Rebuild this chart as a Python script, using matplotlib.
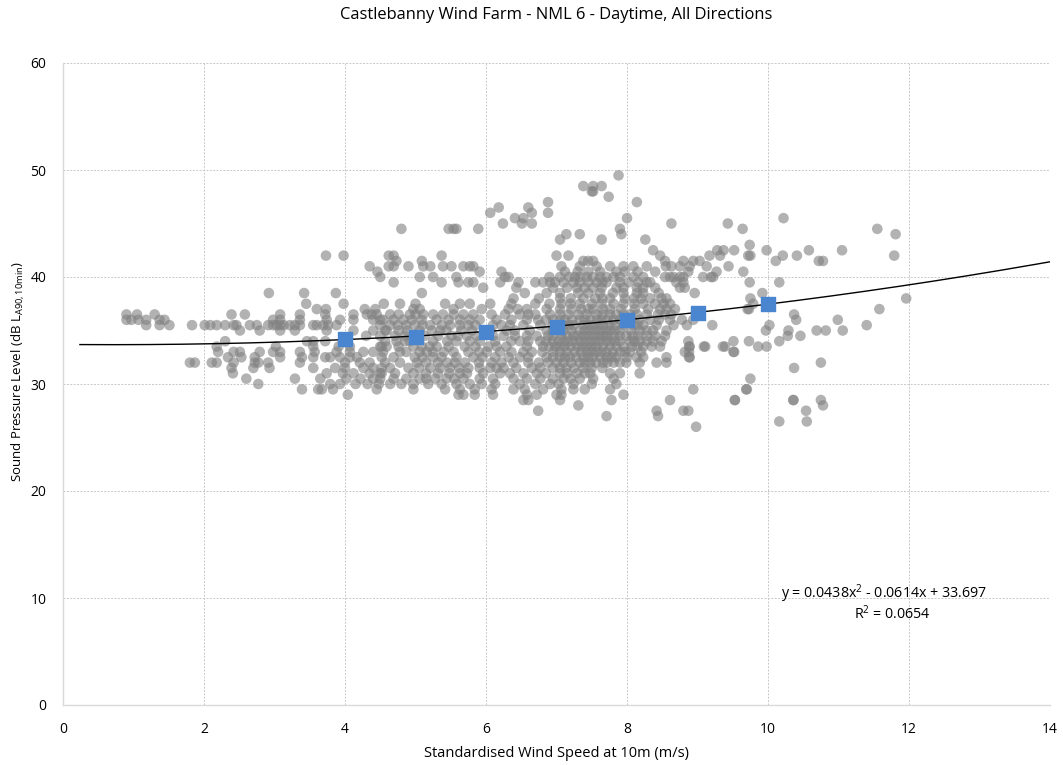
import matplotlib
matplotlib.use("Agg")
import matplotlib.pyplot as plt
import numpy as np

# ---- data: sound pressure level rows (dB) and wind speeds measured at that level ----
spl_levels = [49.5, 48.5, 48.0, 47.5, 47.0, 46.5, 46.0, 45.5, 45.0, 44.5, 44.0, 43.5, 43.0,
              42.5, 42.0, 41.5, 41.0, 40.5, 40.0, 39.5, 39.0, 38.5, 38.0, 37.5, 37.0, 36.5,
              36.0, 35.5, 35.0, 34.5, 34.0, 33.5, 33.0, 32.5, 32.0, 31.5, 31.0, 30.5, 30.0,
              29.5, 29.0, 28.5, 28.0, 27.5, 27.0, 26.5, 26.0]

wind_at_level = [
    [7.88],
    [7.38, 7.52, 7.64],
    [7.50, 7.52],
    [7.74],
    [6.88, 8.14],
    [6.18, 6.60],
    [6.06, 6.65, 6.88],
    [6.41, 6.53, 8.0, 10.22],
    [6.24, 6.51, 6.65, 8.63, 9.43],
    [4.80, 5.47, 5.54, 5.58, 5.89, 7.90, 9.64, 11.55],
    [7.14, 7.33, 7.92, 11.81],
    [7.05, 7.64, 8.26],
    [9.74],
    [8.37, 9.28, 9.37, 9.52, 9.98, 10.58, 11.05],
    [3.73, 3.98, 4.62, 4.69, 5.37, 7.0, 7.17, 8.47, 9.17, 9.32, 9.72, 9.75, 10.21, 10.41, 11.79],
    [4.73, 5.09, 7.38, 7.45, 7.52, 8.54, 8.80, 8.94, 9.03, 10.11, 10.72, 10.78],
    [4.35, 4.62, 4.69, 4.90, 5.11, 5.21, 5.39, 5.51, 5.68, 5.77, 5.82, 7.07, 7.33, 7.57,
     7.76, 7.95, 8.09, 8.28, 8.55, 8.63, 8.75, 8.89, 9.13, 9.44],
    [4.46, 5.91, 6.22, 7.12, 7.45, 7.85, 7.97, 8.40, 8.87, 9.27, 9.65, 7.30, 7.62, 8.15],
    [4.50, 5.06, 5.25, 5.58, 6.27, 6.32, 7.26, 7.33, 7.43, 7.52, 7.62, 7.71, 7.81, 7.90,
     8.09, 8.23, 8.54, 8.61, 8.66, 8.75, 8.80, 9.08, 9.19, 9.22, 6.90, 7.05, 7.18],
    [4.69, 5.37, 5.61, 5.75, 5.82, 6.20, 6.46, 6.70, 6.81, 6.91, 6.98, 7.24, 7.33, 7.45,
     7.57, 7.71, 7.90, 8.16, 8.28, 8.33, 8.70, 8.80, 9.74, 10.16, 7.10, 7.65, 8.02],
    [5.96, 6.43, 7.29, 7.52, 7.64, 7.85, 8.14, 8.23, 8.75, 8.82, 6.95, 7.15, 7.40, 7.95, 8.40],
    [2.92, 3.42, 3.87, 5.09, 6.55, 6.86, 7.31, 7.62, 8.14, 8.23, 8.96, 9.92,
     7.05, 7.45, 7.80, 7.95, 8.45],
    [6.39, 7.05, 7.38, 7.76, 7.97, 8.33, 8.49, 8.56, 9.75, 11.96,
     6.75, 7.20, 7.55, 7.65, 8.10, 8.20],
    [3.45, 3.98, 4.78, 5.42, 5.63, 5.77, 6.06, 6.36, 6.70, 7.07, 7.33, 7.64, 7.81, 8.23,
     8.40, 8.52, 8.61, 9.79, 6.90, 7.20, 7.50, 7.95, 8.10, 4.55, 5.00],
    [3.60, 3.73, 4.28, 4.43, 4.97, 5.06, 5.54, 5.94, 6.32, 6.58, 6.86, 7.21, 7.52, 7.66,
     7.76, 7.92, 8.11, 8.47, 8.56, 8.68, 9.71, 9.73, 11.58, 6.45, 7.05, 7.35, 7.45, 8.30],
    [0.90, 1.05, 1.30, 2.39, 2.58, 3.08, 3.36, 3.72, 4.12, 4.31, 4.38, 4.64, 4.76, 4.92,
     5.11, 5.25, 5.39, 5.54, 5.68, 5.82, 6.08, 6.27, 6.48, 6.70, 6.91, 7.17, 7.31, 7.43,
     7.57, 7.76, 7.95, 8.14, 8.28, 8.44, 8.54, 8.63, 10.37,
     6.60, 7.05, 7.65, 7.85, 8.05, 4.45, 5.00],
    [0.90, 0.97, 1.07, 1.18, 1.37, 1.44, 2.98, 3.08, 3.36, 3.74, 3.93, 4.12, 4.40, 4.50,
     4.54, 4.69, 4.83, 4.95, 5.09, 5.30, 5.47, 5.63, 5.77, 5.91, 6.15, 6.36, 6.58, 6.74,
     6.95, 7.12, 7.33, 7.48, 7.64, 7.81, 7.99, 8.18, 8.33, 8.61, 8.78, 8.94, 10.40, 10.99,
     6.85, 7.05, 7.22, 7.40, 7.57, 7.72, 7.90, 8.45],
    [1.18, 1.37, 1.51, 1.83, 2.01, 2.09, 2.18, 2.30, 2.42, 2.46, 2.65, 2.75, 2.91, 2.98,
     3.03, 3.08, 3.13, 3.22, 3.29, 3.36, 3.55, 3.60, 3.69, 3.76, 3.88, 4.50, 4.64, 4.87,
     4.99, 5.21, 5.37, 5.49, 5.63, 5.75, 6.10, 6.22, 6.34, 6.53, 6.77, 7.10, 7.24, 7.38,
     7.52, 7.66, 7.83, 8.09, 8.23, 8.42, 8.66, 8.85, 9.21, 10.02, 11.40,
     6.95, 7.18, 7.45, 7.60, 7.75, 7.95, 8.15, 5.10, 5.85, 4.75],
    [2.51, 2.79, 3.08, 3.29, 3.74, 4.12, 4.40, 4.57, 4.59, 4.76, 5.06, 5.23, 5.35, 5.44,
     5.80, 6.06, 6.29, 6.41, 6.62, 6.86, 7.10, 7.21, 7.33, 7.48, 7.62, 7.76, 7.90, 8.18,
     8.37, 8.56, 9.97, 10.29, 10.69, 10.82, 11.06,
     6.95, 7.05, 7.40, 7.55, 7.70, 7.83, 8.05, 8.28, 4.88, 5.65],
    [4.50, 4.71, 4.85, 5.13, 5.32, 5.51, 5.73, 5.87, 6.10, 6.25, 6.41, 6.58, 6.72, 6.88,
     7.07, 7.24, 7.38, 7.52, 7.66, 7.81, 7.99, 8.16, 8.28, 8.54, 10.28, 10.46,
     6.95, 7.15, 7.30, 7.45, 7.60, 7.72, 7.90, 8.08, 8.40, 4.30, 5.00, 5.60],
    [2.30, 3.46, 3.55, 3.72, 4.57, 4.73, 4.92, 5.25, 5.58, 5.77, 5.91, 6.13, 6.36, 6.48,
     6.60, 6.77, 6.95, 7.10, 7.24, 7.33, 7.48, 7.62, 7.76, 7.90, 8.04, 8.18, 8.37, 8.49,
     8.87, 9.51, 9.73, 10.16, 6.85, 7.03, 7.17, 7.40, 7.55, 7.70, 7.83, 8.10, 8.28, 4.85, 5.45],
    [2.18, 3.02, 3.55, 3.91, 4.07, 4.50, 4.52, 4.59, 4.76, 4.97, 5.09, 5.30, 5.47, 5.70,
     6.03, 6.29, 6.58, 6.81, 6.98, 7.12, 7.29, 7.43, 7.57, 7.76, 7.95, 8.07, 8.23, 8.35,
     8.47, 8.88, 8.89, 9.09, 9.11, 9.36, 9.39, 9.86, 9.98,
     6.90, 7.05, 7.20, 7.36, 7.50, 7.66, 7.85, 8.15, 5.20, 5.85, 6.15],
    [2.20, 2.42, 2.51, 2.79, 2.98, 3.08, 3.36, 3.57, 3.88, 4.07, 4.26, 4.40, 4.54, 4.78,
     4.87, 5.06, 5.16, 5.25, 5.54, 5.75, 6.01, 6.36, 6.53, 6.65, 7.05, 7.26, 7.43, 7.57,
     7.71, 7.97, 8.04, 8.82, 8.88, 9.51, 9.52,
     6.80, 6.95, 7.15, 7.35, 7.50, 7.64, 7.80, 7.90, 8.20, 5.40, 5.90, 6.20],
    [2.34, 2.53, 2.72, 3.08, 3.39, 3.55, 3.72, 3.79, 3.93, 4.07, 4.17, 4.52, 4.69, 4.99,
     5.37, 5.58, 5.82, 6.13, 6.32, 6.48, 6.60, 6.86, 7.05, 7.19, 7.38, 7.52, 7.71, 7.85,
     8.14, 8.23, 8.56, 8.88, 8.89, 6.95, 7.12, 7.28, 7.45, 7.62, 7.78, 8.00, 5.10, 5.25, 5.95],
    [1.80, 1.87, 2.11, 2.18, 2.42, 2.72, 2.77, 2.91, 3.36, 4.00, 4.21, 4.35, 4.57, 4.78,
     5.02, 5.32, 5.56, 5.70, 6.08, 6.22, 6.39, 6.60, 6.88, 7.00, 7.21, 7.33, 7.48, 7.66,
     7.81, 7.99, 8.18, 8.42, 8.56, 10.75, 6.75, 7.10, 7.40, 7.56, 7.72, 7.90, 5.15, 5.45, 5.90],
    [2.39, 2.70, 2.93, 3.55, 3.86, 4.00, 4.26, 4.40, 4.52, 4.64, 4.90, 5.21, 5.35, 5.49,
     5.75, 5.91, 6.06, 6.25, 6.43, 6.65, 6.77, 6.95, 7.14, 7.38, 10.37,
     7.05, 7.25, 7.50, 7.65, 5.05, 5.62, 6.15],
    [2.41, 3.74, 3.97, 4.12, 4.35, 4.50, 4.52, 4.71, 4.97, 5.32, 5.63, 5.73, 5.96, 6.20,
     6.34, 6.53, 6.72, 7.05, 7.29, 7.48, 7.76, 7.90, 8.18, 6.85, 7.15, 7.40, 5.15, 5.48],
    [2.60, 3.29, 3.65, 4.02, 4.22, 4.40, 4.50, 4.69, 4.87, 5.06, 5.28, 5.44, 5.68, 5.91,
     6.10, 6.39, 6.58, 6.77, 6.95, 7.33, 7.52, 7.81, 9.75, 7.10, 7.20, 5.15, 5.55],
    [2.77, 3.79, 3.93, 4.15, 4.32, 4.48, 4.64, 4.80, 4.97, 5.18, 5.37, 5.58, 5.77, 5.94,
     6.13, 6.48, 6.70, 6.91, 7.03, 7.24, 7.50, 7.85],
    [3.39, 3.62, 3.67, 3.83, 4.45, 4.97, 5.42, 5.63, 5.84, 6.08, 6.39, 6.55, 6.81, 7.07,
     7.24, 7.40, 7.76, 8.94, 9.69, 9.70],
    [4.04, 5.61, 5.68, 5.84, 6.10, 6.58, 6.72, 7.00, 7.07, 7.95],
    [6.53, 6.60, 7.05, 7.78, 8.61, 9.53, 9.53, 10.36, 10.36, 10.75],
    [7.31, 10.78],
    [6.74, 8.42, 8.80, 8.87, 10.54],
    [7.71, 8.44],
    [10.16, 10.55],
    [8.98],
]

bin_speeds = [4, 5, 6, 7, 8, 9, 10]
bin_means = [34.2, 34.4, 34.9, 35.35, 36.0, 36.65, 37.5]

fit_coeffs = [0.0438, -0.0614, 33.697]
fit_start, fit_end = 0.24, 14.0

title = "Castlebanny Wind Farm - NML 6 - Daytime, All Directions"
xlabel = "Standardised Wind Speed at 10m (m/s)"
ylabel = r"Sound Pressure Level (dB L$_{\mathregular{A90,10min}}$)"
eq_text = "y = 0.0438x$^{2}$ - 0.0614x + 33.697"
r2_text = "R$^{2}$ = 0.0654"

# ---- build scatter arrays ----
xs, ys = [], []
for lvl, winds in zip(spl_levels, wind_at_level):
    for w in winds:
        xs.append(w)
        ys.append(lvl)

plt.rcParams['font.family'] = ['Open Sans', 'DejaVu Sans']
plt.rcParams['mathtext.fontset'] = 'custom'
plt.rcParams['mathtext.rm'] = 'Open Sans'

fig = plt.figure(figsize=(10.63, 7.65), dpi=100)
ax = fig.add_axes([63/1063, 60/765, (1050-63)/1063, (705-63)/765])

ax.scatter(xs, ys, s=58, color='#808080', alpha=0.6, edgecolors='none', zorder=3)

xf = np.linspace(fit_start, fit_end, 200)
yf = np.polyval(fit_coeffs, xf)
ax.plot(xf, yf, color='black', lw=1.0, zorder=4)

ax.scatter(bin_speeds, bin_means, s=90, marker='s', color='#4A86D0', zorder=5)

ax.set_xlim(0, 14)
ax.set_ylim(0, 60)
ax.set_xticks(range(0, 15, 2))
ax.set_yticks(range(0, 61, 10))
ax.grid(True, color='#c8c8c8', linestyle=(0, (2, 1.5)), lw=0.7, zorder=0)
ax.set_axisbelow(True)
for s in ['top', 'right']:
    ax.spines[s].set_visible(False)
for s in ['left', 'bottom']:
    ax.spines[s].set_color('#d9d9d9')
    ax.spines[s].set_linewidth(1.0)
ax.tick_params(axis='x', length=0, labelsize=10, colors='#000000', pad=12)
ax.tick_params(axis='y', length=0, labelsize=10, colors='#000000', pad=12)

ax.set_xlabel(xlabel, fontsize=10.5, labelpad=7)
ax.set_ylabel(ylabel, fontsize=9.5)
ax.yaxis.set_label_coords(-0.037, 0.52)
fig.text(0.5 * (63 + 1050) / 1063, 1 - 15/765, title, ha='center', va='center', fontsize=11.9)

ax.text(11.65, 10.4, eq_text, ha='center', va='center', fontsize=10.3)
ax.text(11.77, 8.5, r2_text, ha='center', va='center', fontsize=10.3)

fig.savefig('out.png', dpi=100)
